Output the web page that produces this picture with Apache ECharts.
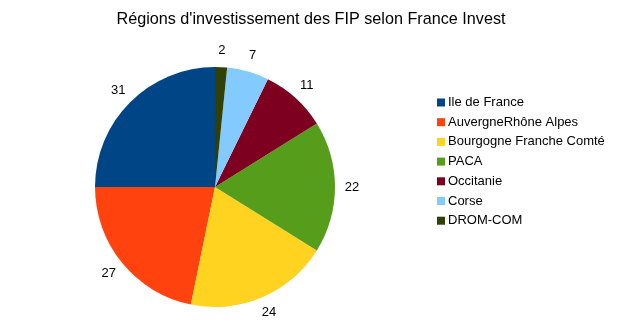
<!DOCTYPE html>
<html><head><meta charset="utf-8">
<script src="https://cdn.jsdelivr.net/npm/echarts@6/dist/echarts.min.js"></script>
<style>html,body{margin:0;padding:0;background:#fff}#c{width:622px;height:324px}</style>
</head><body><div id="c"></div>
<script>
var categories = ['Ile de France', 'AuvergneRhône Alpes', 'Bourgogne Franche Comté', 'PACA', 'Occitanie', 'Corse', 'DROM-COM'];
var values = [31, 27, 24, 22, 11, 7, 2];
var colors = ['#004586', '#ff420e', '#ffd320', '#579d1c', '#7e0021', '#83caff', '#314004'];
var titleText = "Régions d'investissement des FIP selon France Invest";

var data = categories.map(function (c, i) { return { name: c, value: values[i] }; });
var font = 'Liberation Sans, Arial, sans-serif';
var chart = echarts.init(document.getElementById('c'), null, { renderer: 'canvas' });
chart.setOption({
  animation: false,
  color: colors,
  title: { text: titleText, left: 'center', top: 7, textStyle: { fontFamily: font, fontSize: 16.2, fontWeight: 'normal', color: '#000' } },
  legend: {
    orient: 'vertical', left: 432, top: 91, itemWidth: 8, itemHeight: 8, itemGap: 6.7, icon: 'rect',
    textStyle: { fontFamily: font, fontSize: 13, color: '#000', padding: [0, 0, 0, -2] },
    data: categories
  },
  series: [{
    type: 'pie', center: [215, 187], radius: [0, 120], startAngle: 90, clockwise: false,
    label: { show: false }, labelLine: { show: false }, silent: true,
    data: data
  }, {
    type: 'pie', center: [215, 187], radius: [124, 144], startAngle: 90, clockwise: false,
    itemStyle: { color: 'rgba(0,0,0,0)' }, silent: true,
    label: { show: true, position: 'inside', formatter: '{c}', fontFamily: font, fontSize: 13, color: '#000' },
    labelLine: { show: false },
    data: data
  }]
});
</script></body></html>
